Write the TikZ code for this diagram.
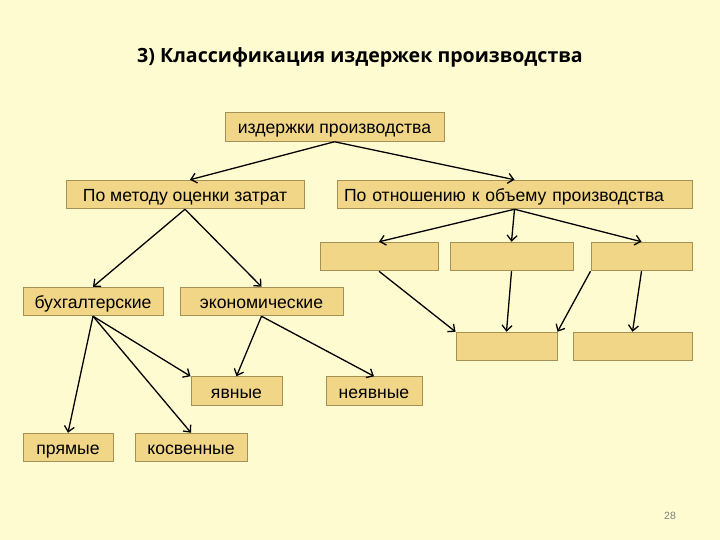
\documentclass[tikz,border=0pt]{standalone}
\usepackage{fontspec}
\setmainfont{Liberation Sans}
\newfontfamily\titlefont{Open Sans}
\usetikzlibrary{arrows.meta}
\definecolor{bg}{RGB}{255,251,208}
\definecolor{boxfill}{RGB}{240,214,134}
\definecolor{boxline}{RGB}{165,145,85}
\begin{document}
\begin{tikzpicture}[x=1pt, y=-1pt,
        b/.style={rectangle, draw=boxline, fill=boxfill, line width=1pt, inner sep=0pt,
                  minimum height=28.5pt, text height=17pt, text depth=3pt,
                  font=\fontsize{17.6}{20}\selectfont},
        arr/.style={-{Straight Barb[length=5.5pt,width=10pt]}, line width=1.3pt, black}]
      \fill[bg] (0,0) rectangle (720,540);
      \node[anchor=base, font=\titlefont\bfseries\fontsize{19.6}{24}\selectfont] (title) at (360,63)
        {3) Классификация издержек производства};
      % first levels
      \node[b, minimum width=219pt] (costs) at (334.5,127) {издержки производства};
      \node[b, minimum width=238pt] (method) at (185,194.5) {По методу оценки затрат};
      \node[b, minimum width=355pt, text width=341pt, align=left] (volume) at (514.5,194.5)
        {По отношению к объему производства};
      % empty boxes
      \node[b, minimum width=118pt] (e1) at (379,256.5) {};
      \node[b, minimum width=123pt] (e2) at (511.5,256.5) {};
      \node[b, minimum width=101pt] (e3) at (641.5,256.5) {};
      \node[b, minimum width=101pt] (e4) at (506.5,346.5) {};
      \node[b, minimum width=119pt] (e5) at (632.5,346.5) {};
      % method branch
      \node[b, minimum width=140pt] (acc) at (93,301.5) {бухгалтерские};
      \node[b, minimum width=163pt] (eco) at (261.5,301.5) {экономические};
      \node[b, minimum width=91pt] (expl) at (236.5,391) {явные};
      \node[b, minimum width=96pt] (impl) at (374,391) {неявные};
      \node[b, minimum width=90pt] (dir) at (68,447.5) {прямые};
      \node[b, minimum width=112pt] (ind) at (191,447.5) {косвенные};
      \node[text=gray, font=\fontsize{10.5}{12}\selectfont] (page) at (670,516) {28};
      \draw[arr] (costs.south) -- ([xshift=5pt]method.north);
      \draw[arr] (costs.south) -- (volume.north);
      \draw[arr] (method.south) -- (acc.north);
      \draw[arr] (method.south) -- (eco.north);
      \draw[arr] (volume.south) -- (e1.north);
      \draw[arr] (volume.south) -- (e2.north);
      \draw[arr] (volume.south) -- (e3.north);
      \draw[arr] (e1.south) -- (e4.north west);
      \draw[arr] (e2.south) -- (e4.north);
      \draw[arr] (e3.south west) -- (e4.north east);
      \draw[arr] (e3.south) -- (e5.north);
      \draw[arr] (acc.south) -- (dir.north);
      \draw[arr] (acc.south) -- (ind.north);
      \draw[arr] (acc.south) -- (expl.north west);
      \draw[arr] (eco.south) -- (expl.north);
      \draw[arr] (eco.south) -- (impl.north);
    \end{tikzpicture}
\end{document}
